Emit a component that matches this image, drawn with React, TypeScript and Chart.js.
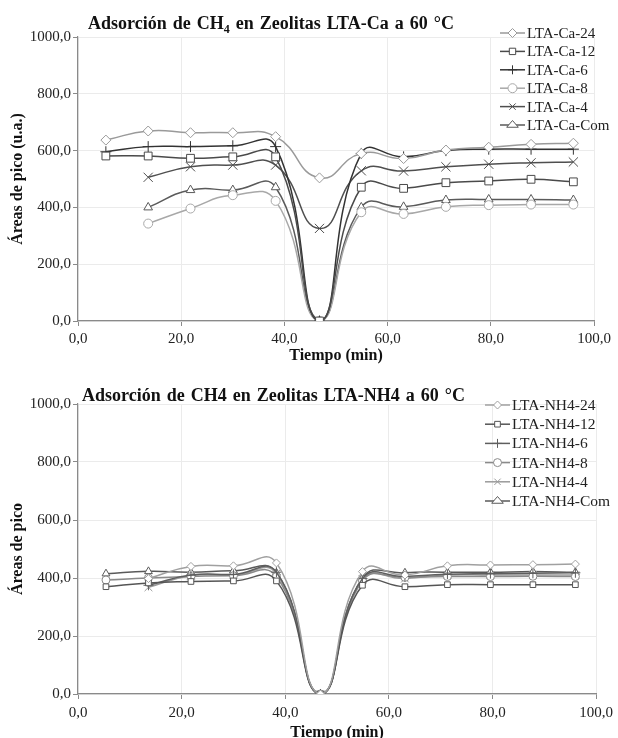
import React, { useEffect, useRef } from 'react';
import { Chart, registerables } from 'chart.js';

Chart.register(...registerables);

// ---------- data ----------
const TIMES = [5.4, 13.6, 21.8, 30.0, 38.3, 46.8, 54.9, 63.1, 71.3, 79.6, 87.8, 96.0];

const CA_TITLE_A = 'Adsorción de CH';
const CA_TITLE_SUB = '4';
const CA_TITLE_B = ' en Zeolitas LTA-Ca a 60 °C';
const CA_LABELS = ['LTA-Ca-24', 'LTA-Ca-12', 'LTA-Ca-6', 'LTA-Ca-8', 'LTA-Ca-4', 'LTA-Ca-Com'];
const CA_24 = [637, 669, 663, 663, 649, 504, 590, 572, 602, 612, 622, 626];
const CA_12 = [581, 581, 573, 578, 578, 0, 471, 467, 487, 493, 499, 490];
const CA_6 = [596, 614, 614, 617, 614, 0, 590, 578, 600, 605, 605, 605];
const CA_8 = [null, 343, 396, 443, 423, 0, 383, 377, 402, 408, 410, 410];
const CA_4 = [null, 506, 543, 549, 549, 326, 529, 528, 543, 552, 557, 560];
const CA_COM = [null, 400, 461, 461, 471, 0, 400, 402, 426, 428, 428, 426];

const NH_TITLE = 'Adsorción de CH4 en Zeolitas LTA-NH4 a 60 °C';
const NH_LABELS = ['LTA-NH4-24', 'LTA-NH4-12', 'LTA-NH4-6', 'LTA-NH4-8', 'LTA-NH4-4', 'LTA-NH4-Com'];
const NH_24 = [null, 398, 440, 442, 452, 0, 422, 410, 442, 445, 446, 448];
const NH_12 = [370, 383, 388, 390, 390, 0, 375, 370, 377, 377, 377, 377];
const NH_6 = [null, 375, 410, 412, 420, 0, 398, 405, 413, 415, 416, 418];
const NH_8 = [393, 400, 405, 408, 405, 0, 390, 402, 405, 405, 406, 405];
const NH_4 = [null, 368, 408, 410, 415, 0, 395, 398, 410, 410, 410, 410];
const NH_COM = [415, 423, 420, 425, 418, 0, 400, 418, 420, 420, 422, 420];

const X_TITLE = 'Tiempo (min)';
const Y_TITLE_CA = 'Áreas de pico (u.a.)';
const Y_TITLE_NH = 'Áreas de pico';

const STYLES = ['rectRot', 'rect', 'cross', 'circle', 'crossRot', 'triangle'];
const CA_COLORS = ['#9a9a9a', '#4a4a4a', '#333333', '#a8a8a8', '#4f4f4f', '#5a5a5a'];
const NH_COLORS = ['#a0a0a0', '#555555', '#5e5e5e', '#8a8a8a', '#9a9a9a', '#5a5a5a'];
const CA_RADII = [5, 5.5, 5.5, 4.5, 6.5, 5];
const NH_RADII = [4, 4, 5, 4, 5.5, 4.5];

const FONT = '"Liberation Serif", "Times New Roman", serif';

function toPoints(vals: (number | null)[]) {
  const pts: { x: number; y: number }[] = [];
  vals.forEach((v, i) => {
    if (v !== null) pts.push({ x: TIMES[i], y: v });
  });
  return pts;
}

function drawMarker(ctx: CanvasRenderingContext2D, style: string, x: number, y: number, r: number) {
  ctx.beginPath();
  if (style === 'rectRot') {
    ctx.moveTo(x, y - r); ctx.lineTo(x + r, y); ctx.lineTo(x, y + r); ctx.lineTo(x - r, y); ctx.closePath();
    ctx.fill(); ctx.stroke();
  } else if (style === 'rect') {
    const s = r * Math.SQRT1_2;
    ctx.rect(x - s, y - s, 2 * s, 2 * s); ctx.fill(); ctx.stroke();
  } else if (style === 'circle') {
    ctx.arc(x, y, r, 0, Math.PI * 2); ctx.fill(); ctx.stroke();
  } else if (style === 'triangle') {
    const h = r * 1.5;
    ctx.moveTo(x, y - r); ctx.lineTo(x + h * 0.577 * 1.5, y + r * 0.5); ctx.lineTo(x - h * 0.577 * 1.5, y + r * 0.5); ctx.closePath();
    ctx.fill(); ctx.stroke();
  } else if (style === 'cross') {
    ctx.moveTo(x, y - r); ctx.lineTo(x, y + r); ctx.moveTo(x - r, y); ctx.lineTo(x + r, y); ctx.stroke();
  } else if (style === 'crossRot') {
    const s = r * Math.SQRT1_2;
    ctx.moveTo(x - s, y - s); ctx.lineTo(x + s, y + s); ctx.moveTo(x - s, y + s); ctx.lineTo(x + s, y - s); ctx.stroke();
  }
}

type Cfg = {
  titleParts: { text: string; sub?: boolean }[];
  titleX: number;
  titleY: number;
  labels: string[];
  series: (number | null)[][];
  colors: string[];
  radii: number[];
  yTitle: string;
  top: number;
  right: number;
  xAxisH: number;
  xTickPad: number;
  xTitlePad: number;
  legendX: number;
  legendY: number;
  legendStep: number;
  legendFont: number;
};

function makeConfig(c: Cfg): any {
  const datasets = c.series.map((s, i) => ({
    label: c.labels[i],
    data: toPoints(s),
    borderColor: c.colors[i],
    backgroundColor: '#ffffff',
    borderWidth: 1.5,
    pointStyle: STYLES[i],
    pointRadius: c.radii[i],
    pointBorderWidth: 1,
    pointBorderColor: c.colors[i],
    pointBackgroundColor: '#ffffff',
    tension: 0.5,
    fill: false,
  }));

  const overlay = {
    id: 'overlay',
    afterDraw(chart: any) {
      const ctx: any = chart.ctx;
      ctx.save();
      // title
      ctx.fillStyle = '#111';
      ctx.textBaseline = 'alphabetic';
      ctx.textAlign = 'left';
      ctx.wordSpacing = '1.5px';
      let x = c.titleX;
      c.titleParts.forEach((p) => {
        if (p.sub) {
          ctx.font = `bold 12px ${FONT}`;
          ctx.fillText(p.text, x, c.titleY + 4);
        } else {
          ctx.font = `bold 18px ${FONT}`;
          ctx.fillText(p.text, x, c.titleY);
        }
        x += ctx.measureText(p.text).width;
      });
      ctx.wordSpacing = '0px';
      // legend
      chart.data.datasets.forEach((ds: any, i: number) => {
        const y = c.legendY + i * c.legendStep;
        ctx.strokeStyle = ds.borderColor;
        ctx.lineWidth = 1.5;
        ctx.beginPath();
        ctx.moveTo(c.legendX, y);
        ctx.lineTo(c.legendX + 25, y);
        ctx.stroke();
        ctx.lineWidth = 1;
        ctx.fillStyle = '#ffffff';
        drawMarker(ctx, ds.pointStyle, c.legendX + 12.5, y, Math.min(ds.pointRadius, 4.5));
        ctx.fillStyle = '#222';
        ctx.font = `${c.legendFont}px ${FONT}`;
        ctx.textBaseline = 'middle';
        ctx.fillText(ds.label, c.legendX + 27, y + 1);
      });
      ctx.restore();
    },
  };

  const comma = (v: any) => Number(v).toFixed(1).replace('.', ',');

  return {
    type: 'line',
    data: { datasets },
    plugins: [overlay],
    options: {
      responsive: false,
      animation: false,
      devicePixelRatio: 1,
      layout: { padding: { top: c.top, right: c.right, left: 0, bottom: 0 } },
      plugins: { legend: { display: false }, title: { display: false }, tooltip: { enabled: false } },
      scales: {
        x: {
          type: 'linear',
          min: 0,
          max: 100,
          ticks: { stepSize: 20, callback: comma, color: '#222', font: { family: FONT, size: 15 }, padding: c.xTickPad, maxRotation: 0 },
          grid: { color: '#ebebeb', tickColor: '#8a8a8a', tickLength: 5, lineWidth: 1 },
          border: { color: '#8a8a8a', width: 1.2 },
          title: { display: true, text: X_TITLE, color: '#111', font: { family: FONT, size: 16, weight: 'bold' }, padding: { top: 0, bottom: c.xTitlePad } },
          afterFit: (s: any) => { s.height = c.xAxisH; },
        },
        y: {
          type: 'linear',
          min: 0,
          max: 1000,
          ticks: { stepSize: 200, callback: comma, color: '#222', font: { family: FONT, size: 15 }, padding: 2 },
          grid: { color: '#ebebeb', tickColor: '#8a8a8a', tickLength: 5, lineWidth: 1 },
          border: { color: '#8a8a8a', width: 1.2 },
          title: { display: true, text: c.yTitle, color: '#111', font: { family: FONT, size: 16, weight: 'bold' }, padding: { top: 8, bottom: 0 } },
          afterFit: (s: any) => { s.width = 78; },
        },
      },
    },
  };
}

function LineChart({ cfg }: { cfg: Cfg }) {
  const ref = useRef<HTMLCanvasElement>(null);
  useEffect(() => {
    const chart = new Chart(ref.current as HTMLCanvasElement, makeConfig(cfg));
    return () => chart.destroy();
  }, []);
  return <canvas ref={ref} width={618} height={369} style={{ display: 'block', width: 618, height: 369 }} />;
}

const CA_CFG: Cfg = {
  titleParts: [{ text: CA_TITLE_A }, { text: CA_TITLE_SUB, sub: true }, { text: CA_TITLE_B }],
  titleX: 88,
  titleY: 29,
  labels: CA_LABELS,
  series: [CA_24, CA_12, CA_6, CA_8, CA_4, CA_COM],
  colors: CA_COLORS,
  radii: CA_RADII,
  yTitle: Y_TITLE_CA,
  top: 37,
  right: 24,
  xAxisH: 48,
  xTickPad: 4,
  xTitlePad: 4,
  legendX: 500,
  legendY: 33,
  legendStep: 18.4,
  legendFont: 15,
};

const NH_CFG: Cfg = {
  titleParts: [{ text: NH_TITLE }],
  titleX: 82,
  titleY: 32,
  labels: NH_LABELS,
  series: [NH_24, NH_12, NH_6, NH_8, NH_4, NH_COM],
  colors: NH_COLORS,
  radii: NH_RADII,
  yTitle: Y_TITLE_NH,
  top: 35,
  right: 20,
  xAxisH: 44,
  xTickPad: 5,
  xTitlePad: -4,
  legendX: 485,
  legendY: 36,
  legendStep: 19.2,
  legendFont: 15.5,
};

export default function App() {
  return (
    <div style={{ position: 'absolute', left: 0, top: 0, width: 618, height: 738, background: '#fff' }}>
      <LineChart cfg={CA_CFG} />
      <LineChart cfg={NH_CFG} />
    </div>
  );
}
